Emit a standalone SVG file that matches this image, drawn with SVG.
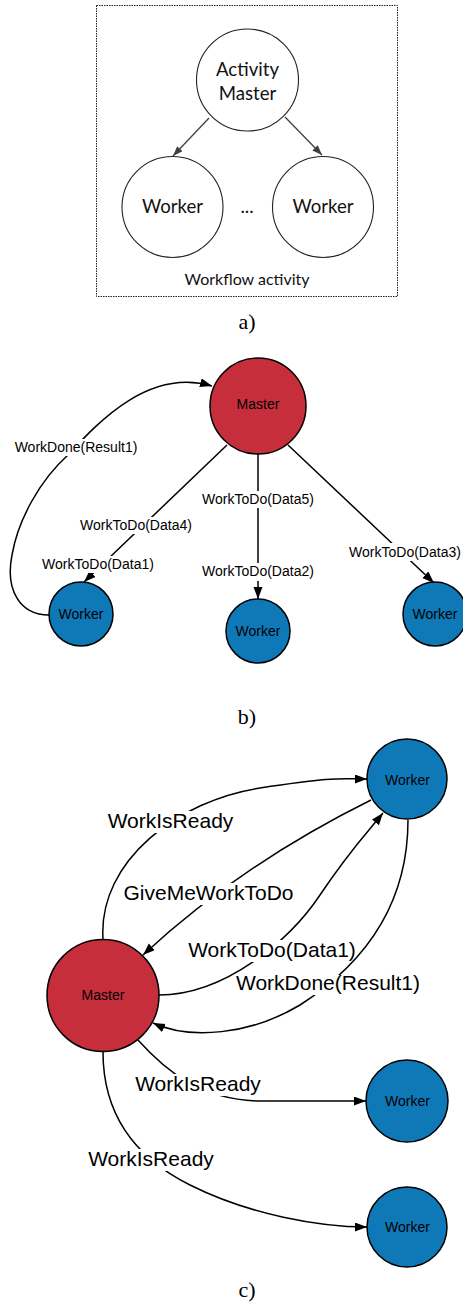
<svg xmlns="http://www.w3.org/2000/svg" width="463" height="1306" viewBox="0 0 463 1306">
<style>
.t{font-family:"Liberation Sans",Arial,sans-serif;font-size:14px;text-anchor:middle;fill:#000}
.tc{font-size:21px}
.ta{font-family:Lato,"Liberation Sans",sans-serif;text-anchor:middle;fill:#111}
.cap{font-family:"Liberation Serif","Times New Roman",serif;font-size:22px;text-anchor:middle;fill:#000}
.bg{fill:#fff}
.e{fill:none;stroke:#000;stroke-width:1.5}
.ea{fill:none;stroke:#404040;stroke-width:1.3}
.wa{fill:#fff;stroke:#222;stroke-width:1.1}
.red{fill:#c72e3b;stroke:#000;stroke-width:1.5}
.blue{fill:#0f79b8;stroke:#000;stroke-width:1.5}
</style>
<defs>
<marker id="ar" markerUnits="userSpaceOnUse" markerWidth="14" markerHeight="10" refX="12" refY="4.5" orient="auto"><path d="M0,0 L12,4.5 L0,9 z" fill="#000"/></marker>
<marker id="ag" markerUnits="userSpaceOnUse" markerWidth="12" markerHeight="9" refX="10" refY="3.75" orient="auto"><path d="M0,0 L10,3.75 L0,7.5 z" fill="#404040"/></marker>
</defs>
<rect width="463" height="1306" fill="#fff"/>

<!-- Part a -->
<g id="a-box"><rect x="96.5" y="5.5" width="301" height="291" fill="none" stroke="#222" stroke-width="1" stroke-dasharray="1.5 1"/><text class="ta" x="247" y="285" font-size="16">Workflow activity</text></g>
<g id="a-connectors">
<line class="ea" x1="209" y1="118" x2="173" y2="156" marker-end="url(#ag)"/>
<line class="ea" x1="285" y1="117" x2="322" y2="155" marker-end="url(#ag)"/>
</g>
<g id="a-master"><circle class="wa" cx="247.5" cy="80" r="51"/><text class="ta" x="247.5" y="76" font-size="18.6">Activity</text><text class="ta" x="247.5" y="100" font-size="18.6">Master</text></g>
<g id="a-worker1"><circle class="wa" cx="172.5" cy="207" r="50.5"/><text class="ta" x="172.5" y="213" font-size="18.6">Worker</text></g>
<g id="a-dots"><text class="ta" x="247" y="213" font-size="18.6">...</text></g>
<g id="a-worker2"><circle class="wa" cx="323" cy="207" r="50.5"/><text class="ta" x="323" y="213" font-size="18.6">Worker</text></g>
<text class="cap" x="247" y="329">a)</text>

<!-- Part b -->
<g id="b-connectors">
<path class="e" d="M49,615 C20,615 5,590 12,555 C18,520 40,480 68,455 C100,420 150,368 212,386" marker-end="url(#ar)"/>
<rect class="bg" x="12" y="439" width="128" height="17"/>
<text class="t" x="76" y="452">WorkDone(Result1)</text>
<line class="e" x1="227" y1="445" x2="84" y2="582" marker-end="url(#ar)"/>
<rect class="bg" x="78" y="517" width="117" height="17"/>
<text class="t" x="136" y="530">WorkToDo(Data4)</text>
<rect class="bg" x="40" y="556" width="117" height="17"/>
<text class="t" x="98" y="569">WorkToDo(Data1)</text>
<line class="e" x1="258" y1="454" x2="258" y2="599" marker-end="url(#ar)"/>
<rect class="bg" x="200" y="491" width="117" height="17"/>
<text class="t" x="258" y="504">WorkToDo(Data5)</text>
<rect class="bg" x="200" y="563" width="117" height="18"/>
<text class="t" x="258" y="576">WorkToDo(Data2)</text>
<line class="e" x1="288" y1="445" x2="434" y2="583" marker-end="url(#ar)"/>
<rect class="bg" x="347" y="543" width="117" height="18"/>
<text class="t" x="405" y="557">WorkToDo(Data3)</text>
</g>
<g id="b-master"><circle class="red" cx="258" cy="406" r="48"/><text class="t" x="258" y="409">Master</text></g>
<g id="b-worker1"><circle class="blue" cx="81" cy="614" r="32"/><text class="t" x="81" y="619">Worker</text></g>
<g id="b-worker2"><circle class="blue" cx="258" cy="631" r="32"/><text class="t" x="258" y="636">Worker</text></g>
<g id="b-worker3"><circle class="blue" cx="435" cy="614" r="32"/><text class="t" x="435" y="619">Worker</text></g>
<text class="cap" x="247" y="724">b)</text>

<!-- Part c -->
<g id="c-connectors">
<path class="e" d="M103,939 C98,860 180,800 260,788 S340,779 367,779" marker-end="url(#ar)"/>
<rect class="bg" x="106" y="811" width="129" height="22"/>
<text class="t tc" x="170.5" y="828">WorkIsReady</text>
<path class="e" d="M371,800 Q240,865 143,955" marker-end="url(#ar)"/>
<rect class="bg" x="122" y="883" width="174" height="22"/>
<text class="t tc" x="208.5" y="900">GiveMeWorkToDo</text>
<path class="e" d="M159,995 C225,995 290,940 320,895 S366,834 383,813" marker-end="url(#ar)"/>
<rect class="bg" x="187" y="940" width="170" height="22"/>
<text class="t tc" x="272" y="957">WorkToDo(Data1)</text>
<path class="e" d="M408,820 C408,900 370,960 300,1005 C250,1035 190,1040 153,1023" marker-end="url(#ar)"/>
<rect class="bg" x="235" y="975" width="186" height="20"/>
<text class="t tc" x="328" y="990">WorkDone(Result1)</text>
<path class="e" d="M138,1040 C165,1070 200,1100 260,1101 L366,1101" marker-end="url(#ar)"/>
<rect class="bg" x="134" y="1074" width="129" height="22"/>
<text class="t tc" x="198" y="1091">WorkIsReady</text>
<path class="e" d="M103,1052 C103,1120 140,1160 190,1185 C250,1215 320,1227 367,1227" marker-end="url(#ar)"/>
<rect class="bg" x="87" y="1149" width="129" height="22"/>
<text class="t tc" x="151" y="1166">WorkIsReady</text>
</g>
<g id="c-master"><circle class="red" cx="103" cy="995.5" r="56"/><text class="t" x="103" y="1000">Master</text></g>
<g id="c-worker1"><circle class="blue" cx="407" cy="779" r="40"/><text class="t" x="407.5" y="785">Worker</text></g>
<g id="c-worker2"><circle class="blue" cx="407" cy="1101" r="41"/><text class="t" x="407.5" y="1106">Worker</text></g>
<g id="c-worker3"><circle class="blue" cx="407" cy="1227" r="40"/><text class="t" x="407.5" y="1232">Worker</text></g>
<text class="cap" x="247" y="1297">c)</text>
</svg>
